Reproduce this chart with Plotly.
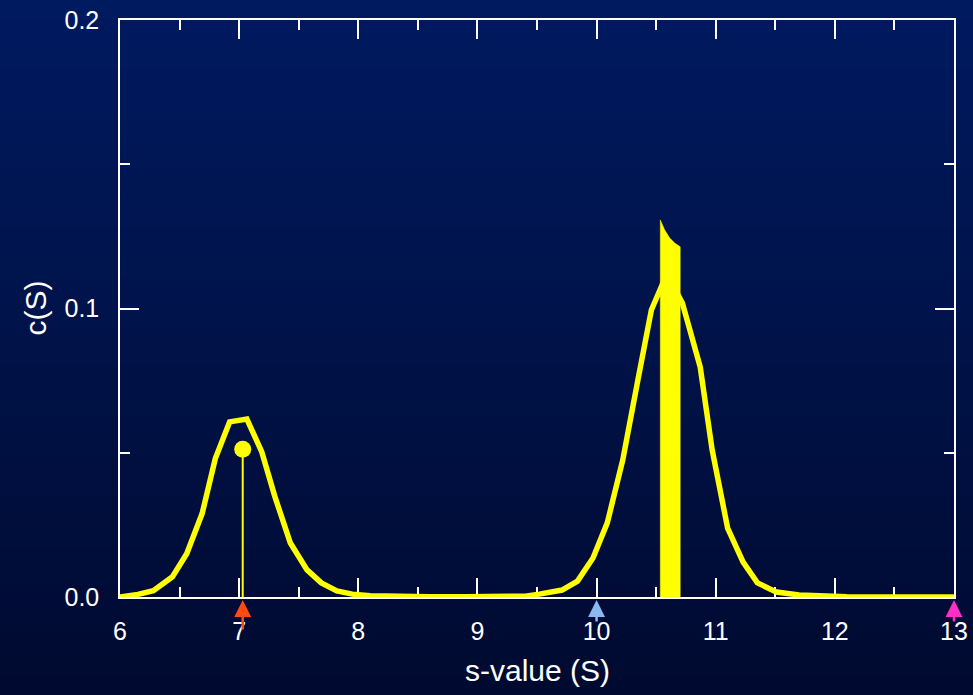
import plotly.graph_objects as go

# ---- data ----
s_values = [6.00, 6.15, 6.28, 6.44, 6.56, 6.69, 6.80, 6.92, 7.065, 7.19, 7.30, 7.43, 7.57, 7.69,
            7.82, 7.95, 8.10, 8.30, 8.60, 8.90, 9.20, 9.40, 9.52, 9.71, 9.84, 9.97, 10.09, 10.22,
            10.35, 10.46, 10.59, 10.72, 10.87, 10.97, 11.10, 11.23, 11.35, 11.51, 11.70, 11.87,
            12.10, 12.50, 13.00]
c_values = [0.0000, 0.0009, 0.0022, 0.0070, 0.0150, 0.0290, 0.0480, 0.0607, 0.0617, 0.0503,
            0.0348, 0.0187, 0.0094, 0.0049, 0.0021, 0.0010, 0.0004, 0.0002, 0.0001, 0.0001,
            0.0001, 0.0003, 0.0010, 0.0024, 0.0055, 0.0135, 0.0257, 0.0475, 0.0759, 0.0995,
            0.1120, 0.1019, 0.0797, 0.0510, 0.0239, 0.0121, 0.0049, 0.0017, 0.0007, 0.0003,
            0.0001, 0.0000, 0.0000]

band_x = [10.535, 10.535, 10.572, 10.614, 10.656, 10.702, 10.702]
band_y = [0.0, 0.1307, 0.1272, 0.1244, 0.1227, 0.1214, 0.0]

stem_s = 7.03
stem_c = 0.0512

arrow_s = [7.03, 10.0, 13.0]
arrow_colors = ["#ff4a14", "#8cb8f0", "#ff2ec8"]
arrow_len = [31, 23, 23]

x_ticks = [6, 7, 8, 9, 10, 11, 12, 13]
y_ticks = [0.0, 0.1, 0.2]
y_tick_text = ["0.0", "0.1", "0.2"]

# ---- layout geometry ----
W, H = 973, 695
ML, MR, MT, MB = 120, 19, 20, 98
PW, PH = W - ML - MR, H - MT - MB

FONT = "Arial, Liberation Sans, sans-serif"

fig = go.Figure()

fig.add_trace(go.Scatter(x=s_values, y=c_values, mode="lines",
                         line=dict(color="#ffff00", width=5.5),
                         cliponaxis=False, hoverinfo="skip"))
fig.add_trace(go.Scatter(x=band_x, y=band_y, mode="lines", fill="toself",
                         fillcolor="#ffff00", line=dict(color="#ffff00", width=0.5),
                         cliponaxis=False, hoverinfo="skip"))
fig.add_trace(go.Scatter(x=[stem_s, stem_s], y=[0, stem_c], mode="lines",
                         line=dict(color="#ffff00", width=2),
                         cliponaxis=False, hoverinfo="skip"))
fig.add_trace(go.Scatter(x=[stem_s], y=[stem_c], mode="markers",
                         marker=dict(color="#ffff00", size=17),
                         cliponaxis=False, hoverinfo="skip"))

# background gradient
shapes = []
top = (0, 26, 96)
bot = (0, 10, 48)
n = 70
y_top = 1 + MT / PH
y_bot = -MB / PH
for i in range(n):
    t = (i + 0.5) / n
    col = tuple(round(top[k] + (bot[k] - top[k]) * t) for k in range(3))
    y1 = y_top - (y_top - y_bot) * i / n + (0.01 if i == 0 else 0)
    y0 = y_top - (y_top - y_bot) * (i + 1) / n - (0.01 if i == n - 1 else 0.002)
    shapes.append(dict(type="rect", xref="paper", yref="paper",
                       x0=-ML / PW - 0.01, x1=1 + MR / PW + 0.01, y0=y0, y1=y1,
                       fillcolor="rgb(%d,%d,%d)" % col, line=dict(width=0), layer="below"))

annotations = []
for s, c, L in zip(arrow_s, arrow_colors, arrow_len):
    annotations.append(dict(x=s, y=0, xref="x", yref="paper", text="", showarrow=True,
                            ax=0, ay=L, arrowhead=2, arrowsize=1.35, arrowwidth=2.5,
                            arrowcolor=c, standoff=0, yshift=-3))
annotations.append(dict(x=0.5, y=-73 / PH, xref="paper", yref="paper", text="s-value (S)",
                        showarrow=False, font=dict(family=FONT, size=30, color="white"),
                        xanchor="center", yanchor="middle"))
annotations.append(dict(x=-85 / PW, y=0.5, xref="paper", yref="paper", text="c(S)",
                        showarrow=False, textangle=-90,
                        font=dict(family=FONT, size=30, color="white"),
                        xanchor="center", yanchor="middle"))

axis_common = dict(showgrid=False, zeroline=False, showline=True, linecolor="white",
                   linewidth=1.5, mirror="allticks", ticks="inside", ticklen=19,
                   tickcolor="white", tickwidth=1.5, automargin=False,
                   tickfont=dict(family=FONT, size=25, color="white"),
                   layer="below traces")

fig.update_layout(
    width=W, height=H,
    margin=dict(l=ML, r=MR, t=MT, b=MB, pad=0),
    paper_bgcolor="#000b30", plot_bgcolor="rgba(0,0,0,0)",
    showlegend=False,
    shapes=shapes, annotations=annotations,
    xaxis=dict(range=[6, 13], tickvals=x_ticks, ticklabelstandoff=11,
               minor=dict(ticks="inside", ticklen=10, dtick=0.5, tickcolor="white", tickwidth=1.5),
               **axis_common),
    yaxis=dict(range=[0, 0.2], tickvals=y_ticks, ticktext=y_tick_text, ticklabelstandoff=14,
               minor=dict(ticks="inside", ticklen=10, dtick=0.05, tickcolor="white", tickwidth=1.5),
               **axis_common),
)

fig.write_html("out.html")
